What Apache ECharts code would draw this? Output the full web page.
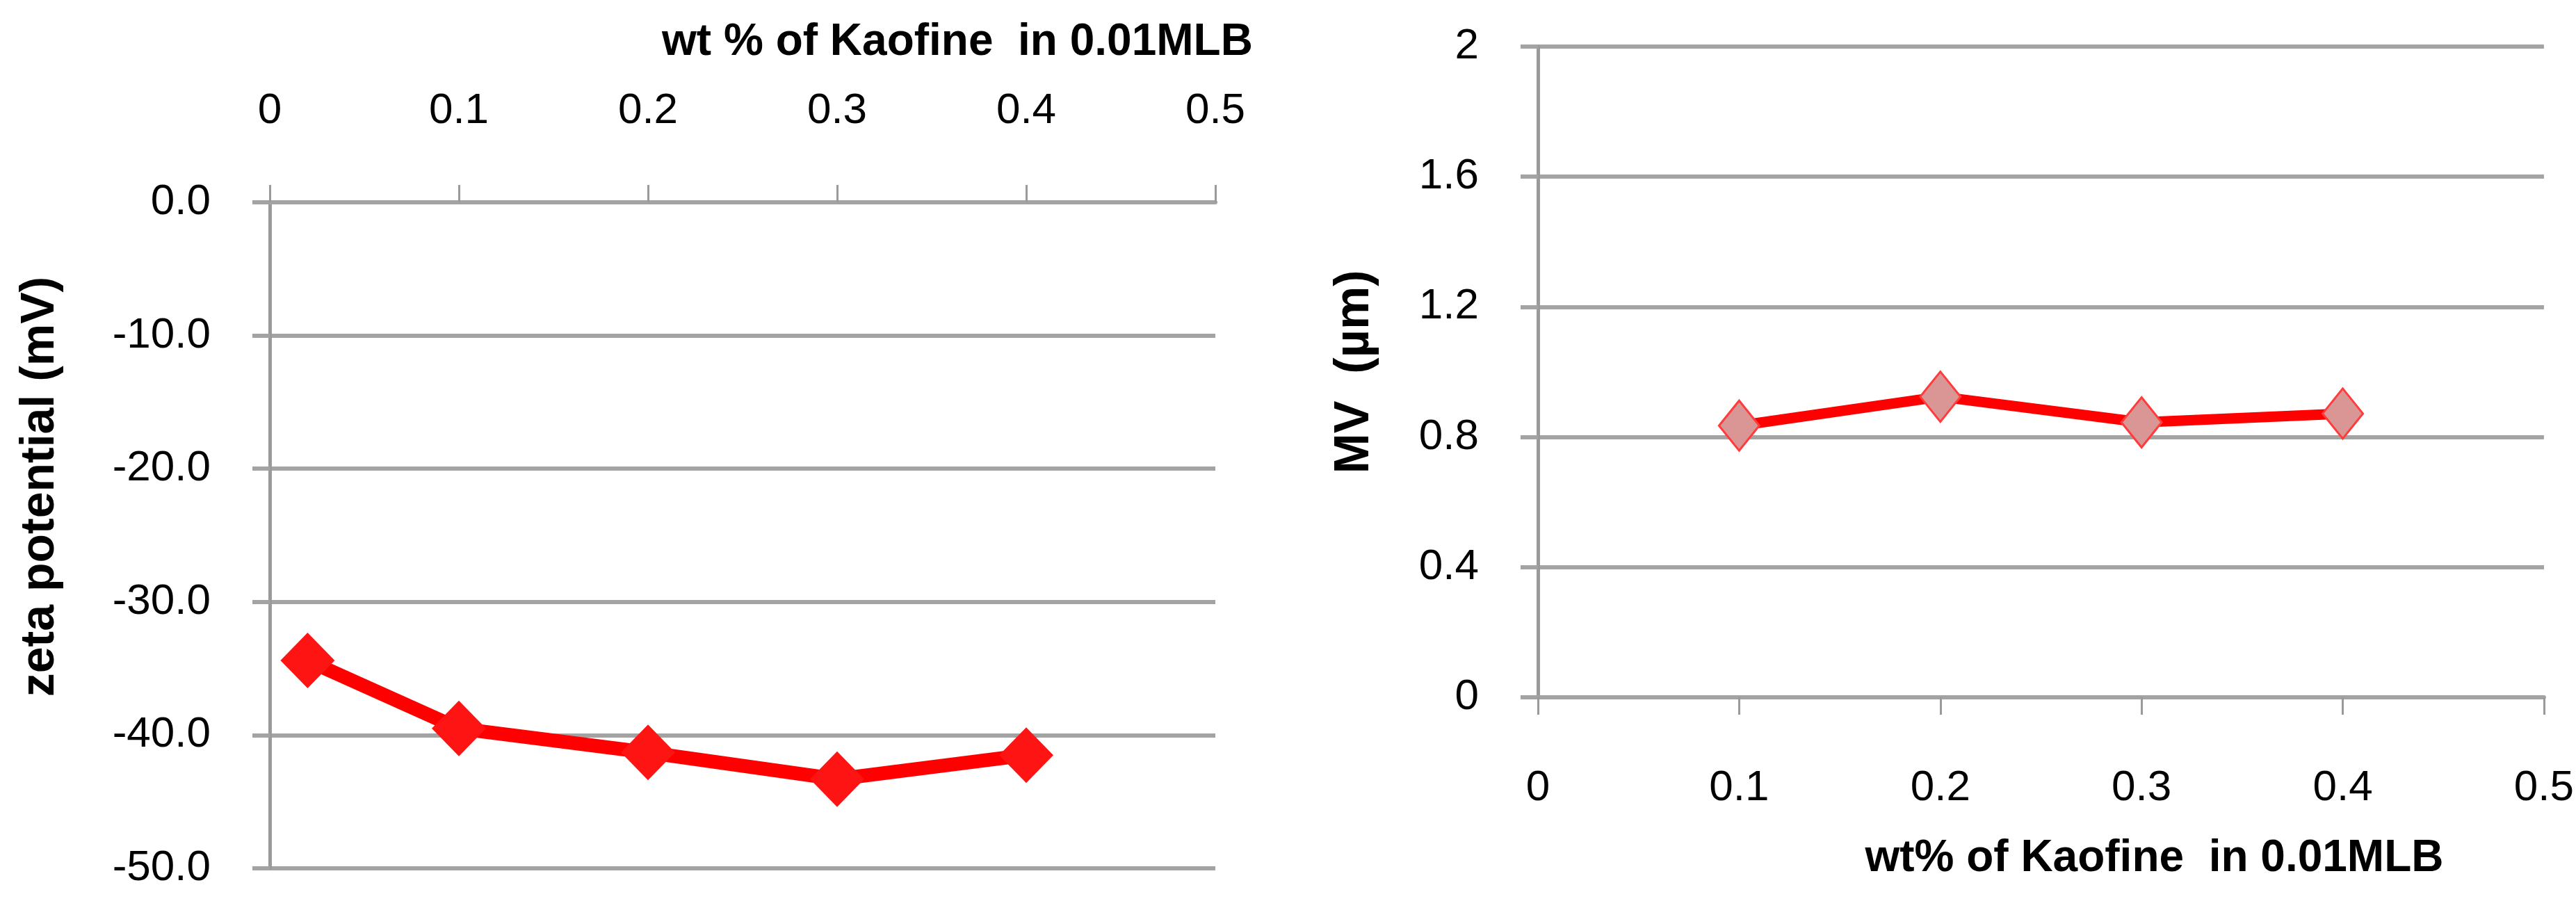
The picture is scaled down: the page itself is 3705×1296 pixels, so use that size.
<!DOCTYPE html>
<html>
<head>
<meta charset="utf-8">
<script src="https://cdn.jsdelivr.net/npm/echarts@6/dist/echarts.min.js"></script>
<style>
html,body{margin:0;padding:0;background:#fff;}
#chart{width:3705px;height:1296px;}
</style>
</head>
<body>
<div id="chart"></div>
<script>
// ---- data ----
const zetaX = [0.02, 0.1, 0.2, 0.3, 0.4];
const zetaY = [-34.4, -39.5, -41.3, -43.3, -41.5];
const mvX = [0.1, 0.2, 0.3, 0.4];
const mvY = [0.835, 0.924, 0.845, 0.872];
const xTitleLeft = 'wt % of Kaofine  in 0.01MLB';
const xTitleRight = 'wt% of Kaofine  in 0.01MLB';
const yTitleLeft = 'zeta potential (mV)';
const yTitleRight = 'MV  (µm)';

const FONT = "'Liberation Sans', Arial, sans-serif";
const gridColor = '#a3a3a3';
const axisColor = '#9a9a9a';
const fmt1 = v => (+v.toFixed(1)).toString();

const chart = echarts.init(document.getElementById('chart'), null, {renderer: 'canvas'});

const baseLabel = {color: '#000', fontSize: 62, fontFamily: FONT};
const nameStyle = (size, pad) => ({color: '#000', fontSize: size, fontWeight: 'bold', fontFamily: FONT, padding: pad});

chart.setOption({
  backgroundColor: '#fff',
  animation: false,
  grid: [
    {left: 388, right: 1957, top: 291, bottom: 47, containLabel: false},
    {left: 2212, right: 43, top: 67, bottom: 293, containLabel: false}
  ],
  xAxis: [
    {
      type: 'value', gridIndex: 0, position: 'top', min: 0, max: 0.5, interval: 0.1,
      axisLine: {show: true, onZero: false, lineStyle: {color: gridColor, width: 6}},
      axisTick: {show: true, inside: false, length: 25, lineStyle: {color: axisColor, width: 3}},
      splitLine: {show: false},
      axisLabel: Object.assign({margin: 100, formatter: fmt1}, baseLabel),
      name: xTitleLeft, nameLocation: 'middle', nameGap: 198,
      nameTextStyle: nameStyle(64, [0, 0, 0, 618])
    },
    {
      type: 'value', gridIndex: 1, position: 'bottom', min: 0, max: 0.5, interval: 0.1,
      axisLine: {show: true, onZero: false, lineStyle: {color: gridColor, width: 6}},
      axisTick: {show: true, inside: false, length: 25, lineStyle: {color: axisColor, width: 3}},
      splitLine: {show: false},
      axisLabel: Object.assign({margin: 100, formatter: fmt1}, baseLabel),
      name: xTitleRight, nameLocation: 'middle', nameGap: 200,
      nameTextStyle: nameStyle(64, [0, 0, 0, 326])
    }
  ],
  yAxis: [
    {
      type: 'value', gridIndex: 0, min: -50, max: 0, interval: 10,
      axisLine: {show: true, onZero: false, lineStyle: {color: axisColor, width: 5}},
      axisTick: {show: true, inside: false, length: 25, lineStyle: {color: gridColor, width: 6}},
      splitLine: {show: true, lineStyle: {color: gridColor, width: 6}},
      axisLabel: Object.assign({margin: 85, formatter: v => v.toFixed(1)}, baseLabel),
      name: yTitleLeft, nameLocation: 'middle', nameGap: 296, nameRotate: 90,
      nameTextStyle: nameStyle(68, [0, 0, 0, 140])
    },
    {
      type: 'value', gridIndex: 1, min: 0, max: 2, interval: 0.4,
      axisLine: {show: true, onZero: false, lineStyle: {color: axisColor, width: 5}},
      axisTick: {show: true, inside: false, length: 25, lineStyle: {color: gridColor, width: 6}},
      splitLine: {show: true, lineStyle: {color: gridColor, width: 6}},
      axisLabel: Object.assign({margin: 85, formatter: fmt1}, baseLabel),
      name: yTitleRight, nameLocation: 'middle', nameGap: 228, nameRotate: 90,
      nameTextStyle: nameStyle(70, 0)
    }
  ],
  series: [
    {
      type: 'line', xAxisIndex: 0, yAxisIndex: 0,
      data: zetaX.map((x, i) => [x, zetaY[i]]),
      lineStyle: {color: '#ff0000', width: 20},
      symbol: 'diamond', symbolSize: [78, 80],
      itemStyle: {color: '#ff1414', borderWidth: 0},
      z: 5
    },
    {
      type: 'line', xAxisIndex: 1, yAxisIndex: 1,
      data: mvX.map((x, i) => [x, mvY[i]]),
      lineStyle: {color: '#ff0000', width: 15},
      symbol: 'diamond', symbolSize: [58, 72],
      itemStyle: {color: '#d99694', borderColor: '#ff3b3b', borderWidth: 3},
      z: 5
    }
  ]
});
</script>
</body>
</html>
